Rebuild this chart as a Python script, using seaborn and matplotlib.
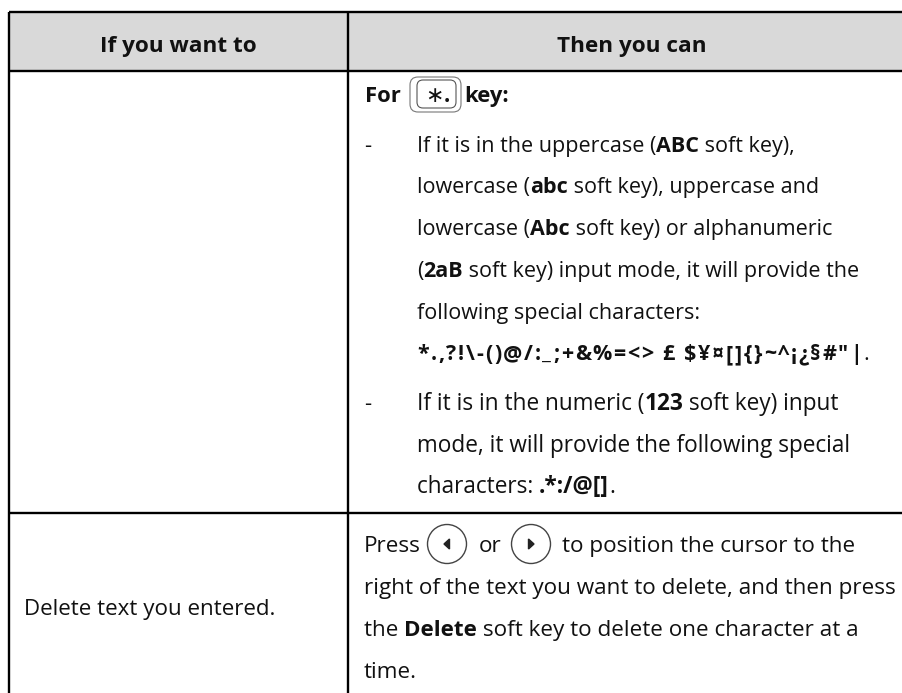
import matplotlib
matplotlib.use('Agg')
import matplotlib.pyplot as plt
from matplotlib.patches import Circle, FancyBboxPatch, Polygon
import seaborn as sns

# table content, ** marks bold runs
col_titles = ['If you want to', 'Then you can']
left_cell = 'Delete text you entered.'
first_list = ['If it is in the uppercase (**ABC** soft key),',
              'lowercase (**abc** soft key), uppercase and',
              'lowercase (**Abc** soft key) or alphanumeric',
              '(**2aB** soft key) input mode, it will provide the',
              'following special characters:']
symbols = '*.,?!\\-()@/:_;+&%=<> £ $¥¤[]{}~^¡¿§#"|'
second_list = ['If it is in the numeric (**123** soft key) input',
               'mode, it will provide the following special',
               'characters: **.*:/@[]**.']
delete_lines = ['to position the cursor to the',
                'right of the text you want to delete, and then press',
                'the **Delete** soft key to delete one character at a',
                'time.']

col_edges = [9, 348.5, 916]
row_edges = [12, 70.7, 513]
first_ys = [152, 193, 235, 277, 319]
symbols_y = 360
second_ys = [410, 452, 493]
delete_ys = [552, 594, 636, 678]

sns.set_theme(style='white')
plt.rcParams['font.family'] = ['Open Sans', 'DejaVu Sans']
plt.rcParams['text.parse_math'] = False

INK = '#111111'

fig = plt.figure(figsize=(9.03, 6.93), dpi=100)
ax = fig.add_axes([0, 0, 1, 1])
ax.set_xlim(0, 903)
ax.set_ylim(693, 0)
ax.axis('off')
fig.canvas.draw()
rend = fig.canvas.get_renderer()


def width(s, weight, fs):
    t = ax.text(0, 0, '|' + s + '|', fontsize=fs, fontweight=weight)
    w = t.get_window_extent(rend).width
    t.set_text('||')
    w -= t.get_window_extent(rend).width
    t.remove()
    return w


def rich(x, y, line, fs):
    for i, part in enumerate(line.split('**')):
        weight = 'bold' if i % 2 else 'normal'
        ax.text(x, y, part, fontsize=fs, fontweight=weight, color=INK)
        x += width(part, weight, fs)
    return x


def spaced(x, y, line, extra, fs):
    # the symbol line is set wider than the font gives
    for ch in line:
        ax.text(x, y, ch, fontsize=fs, fontweight='bold', color=INK)
        x += width(ch, 'bold', fs) + extra
    return x


# header shading and rules
ax.fill_between(col_edges, row_edges[0], row_edges[1], color='#d9d9d9', lw=0)
ax.hlines(row_edges, col_edges[0], col_edges[-1], color='black', lw=1.7)
ax.vlines(col_edges[:2], row_edges[0], 693, color='black', lw=1.7)

for i, title in enumerate(col_titles):
    ax.text((col_edges[i] + col_edges[i + 1]) / 2, 52, title, ha='center',
            fontsize=16.2, fontweight='bold', color=INK)

# key row
rich(365, 102, '**For**', 15.8)
ax.add_patch(FancyBboxPatch((410, 77), 51, 35, boxstyle='round,pad=0,rounding_size=8',
                            fc='white', ec='#777777', lw=0.8))
ax.add_patch(FancyBboxPatch((417, 80), 39, 28, boxstyle='round,pad=0,rounding_size=6',
                            fc='white', ec='#555555', lw=0.8))
ax.text(434, 102, '\u2217', fontsize=15.8, color=INK, ha='center')
ax.text(447, 102, '.', fontsize=15.8, color=INK, ha='center', fontweight='bold')
rich(464, 102, '**key:**', 15.8)

ax.text(364, first_ys[0], '-', fontsize=15.8, color=INK)
for y, line in zip(first_ys, first_list):
    rich(417, y, line, 15.5)
end = spaced(417, symbols_y, symbols, 1.7, 15.5)
ax.text(end, symbols_y, '.', fontsize=15.5, color=INK)

ax.text(364, second_ys[0], '-', fontsize=15.8, color=INK)
for y, line in zip(second_ys, second_list):
    rich(417, y, line, 16.3)

ax.text(24, 615, left_cell, fontsize=16.1, color=INK)

# press row with the two round keys
rich(364, delete_ys[0], 'Press', 16.2)
rich(479, delete_ys[0], 'or', 16.2)
for cx, d in [(447, -1), (531, 1)]:
    ax.add_patch(Circle((cx, 544), 19.5, fc='white', ec='#444444', lw=1))
    ax.add_patch(Polygon([(cx - d * 2.5, 539), (cx - d * 2.5, 549), (cx + d * 3, 544)], color='#222222'))
rich(562, delete_ys[0], delete_lines[0], 16.2)
for y, line in zip(delete_ys[1:], delete_lines[1:]):
    rich(364, y, line, 16.2)

plt.savefig('out.png', dpi=100)
